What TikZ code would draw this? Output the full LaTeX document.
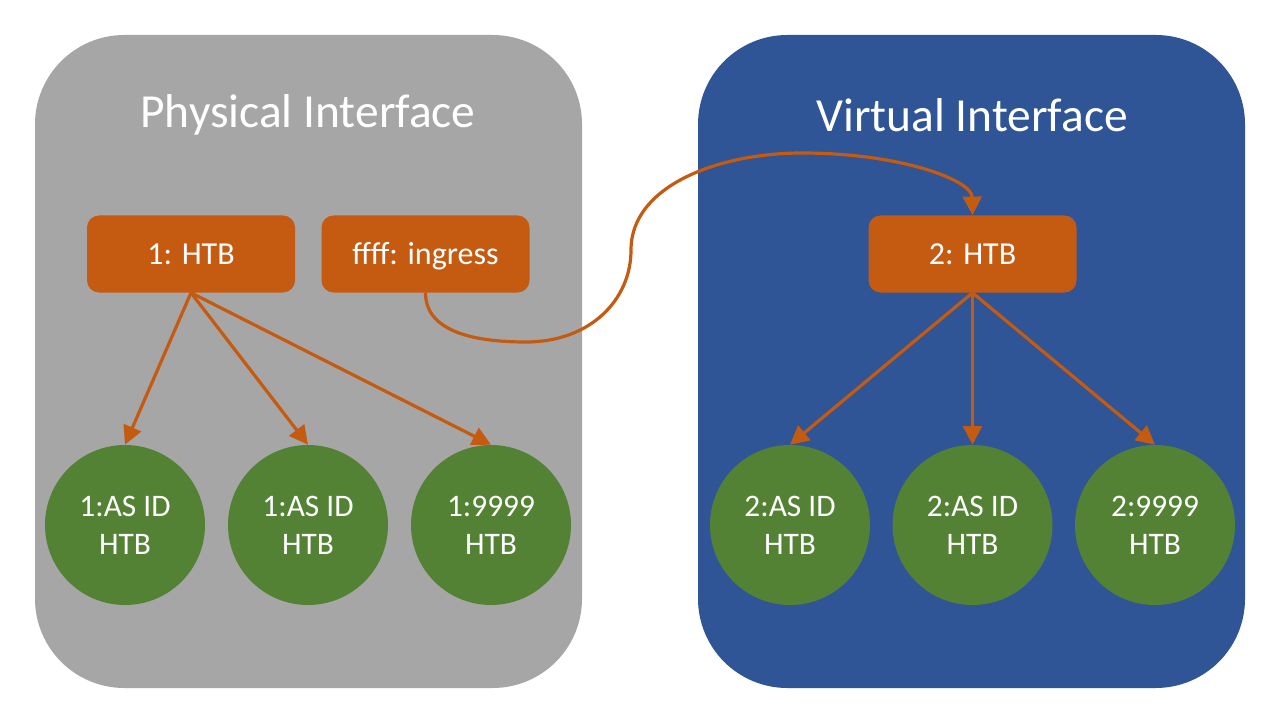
\documentclass[tikz,border=0pt]{standalone}
\usepackage{fontspec}
\setmainfont{Carlito}
\usetikzlibrary{arrows.meta}
\definecolor{panelgray}{HTML}{A6A6A6}
\definecolor{panelblue}{HTML}{2F5597}
\definecolor{qorange}{HTML}{C55A11}
\definecolor{qgreen}{HTML}{548235}
\tikzset{
  panel/.style={rounded corners=67pt},
  title/.style={text=white, font=\fontsize{35.6}{42}\selectfont},
  qdisc/.style={fill=qorange, rounded corners=9pt, minimum width=156pt, minimum height=57.75pt, text=white, font=\fontsize{24}{28}\selectfont, inner sep=0pt, text height=15.5pt, text depth=-1pt},
  qclass/.style={circle, fill=qgreen, minimum size=120pt, text=white, font=\fontsize{23.5}{28.5}\selectfont, align=center, inner sep=0pt},
  arr/.style={draw=qorange, line width=2.4pt, -{Triangle[length=14pt,width=14pt]}},
}
\begin{document}
\begin{tikzpicture}[x=0.75pt,y=-0.75pt]
\useasboundingbox (0,0) rectangle (1280,720);
\fill[white] (0,0) rectangle (1280,720);
\fill[panel, panelgray] (35,35) rectangle (582,688);
\fill[panel, panelblue] (698,35) rectangle (1245,688);
\node[title] (t1) at (308,115) {Physical Interface};
\node[title] (t2) at (972,115) {Virtual Interface};
\node[qdisc] (h1) at (191,254) {1: HTB};
\node[qdisc] (ing) at (425.5,254) {ffff: ingress};
\node[qdisc] (h2) at (972.5,254) {2: HTB};
\node[qclass] (c1) at (125,525) {1:AS ID\\HTB};
\node[qclass] (c2) at (308,525) {1:AS ID\\HTB};
\node[qclass] (c3) at (491,525) {1:9999\\HTB};
\node[qclass] (c4) at (790,525) {2:AS ID\\HTB};
\node[qclass] (c5) at (972.5,525) {2:AS ID\\HTB};
\node[qclass] (c6) at (1155,525) {2:9999\\HTB};
\draw[arr] (h1.south) -- (c1.north);
\draw[arr] (h1.south) -- (c2.north);
\draw[arr] (h1.south) -- (c3.north);
\draw[arr] (h2.south) -- (c4.north);
\draw[arr] (h2.south) -- (c5.north);
\draw[arr] (h2.south) -- (c6.north);
\draw[arr] (ing.south) .. controls (425.5,330) and (470,342) .. (526,342)
  .. controls (590,342) and (631,300) .. (631,250)
  .. controls (631,185) and (720,153) .. (802,153)
  .. controls (900,153) and (972,180) .. (h2.north);
\end{tikzpicture}
\end{document}
